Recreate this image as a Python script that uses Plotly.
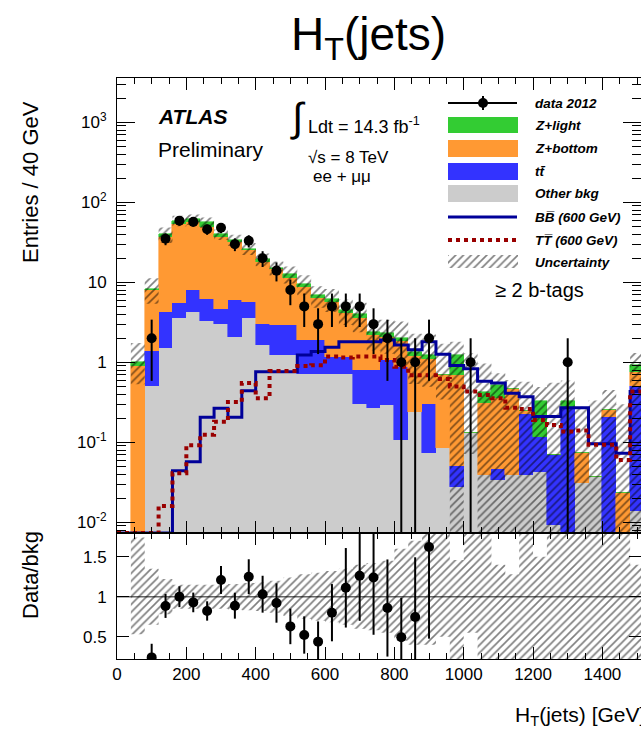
import numpy as np
import plotly.graph_objects as go

# ---------------------------------------------------------------------------
# H_T(jets) distribution, 40 GeV bins, >= 2 b-tags, ee + mumu channel
# ---------------------------------------------------------------------------
bin_width = 40.0
n_bins = 38
edges = np.arange(n_bins + 1) * bin_width
centers = 0.5 * (edges[:-1] + edges[1:])

data_2012 = np.array([0, 0, 2, 35, 59, 57, 46, 48, 30, 33, 20, 14, 8, 5, 3, 5, 5, 5, 3, 2,
                      1, 1, 2, 0, 0, 1, 0, 0, 0, 0, 0, 0, 1, 0, 0, 0, 0, 0], dtype=float)

other_bkg = np.array([0, 0, 0.51, 1.5, 3.6, 4.2, 3.3, 3.0, 2.1, 3.55, 1.63, 1.23, 1.23, 0.72,
                      0.72, 0.72, 0.72, 0.30, 0.27, 0.29, 0.107, 0.24, 0.073, 0.084, 0.028,
                      0.13, 0.039, 0.034, 0.039, 0.039, 0.042, 0.0093, 0.0, 0.031, 0.037,
                      0.0, 0.0, 0.014])
ttbar = np.array([0, 0, 0.89, 2.8, 1.9, 3.8, 2.9, 1.7, 3.9, 2.05, 1.37, 1.67, 1.7, 1.18, 1.18,
                  0.43, 0.43, 0.50, 0.53, 0.78, 0.77, 0, 0.23, 0, 0.022, 0, 0, 0.012, 0, 0.19,
                  0.075, 0.06, 0.27, 0, 0, 0.21, 0, 0.49])
z_bottom = np.array([0, 0.89, 6.6, 32.2, 48.5, 48, 43.3, 32.3, 26, 19.4, 15, 11.6, 8.3, 6.9,
                     4.4, 4.55, 2.95, 2.8, 1.4, 1.03, 0.97, 0.96, 0.8, 0.6, 0.64, 0.0, 0.27,
                     0.31, 0.43, 0.02, 0, 0, 0, 0.042, 0, 0.04, 0.023, 0.26])
z_light = np.array([0, 0.11, 0.3, 3.1, 5.0, 5.4, 6.5, 2.7, 1.8, 1.4, 1.4, 0.7, 1.5, 0.8, 0.55,
                    0.55, 0.4, 0.36, 0.22, 0.23, 0.18, 0.14, 0.13, 0.0, 0.55, 0.0, 0.12, 0.165,
                    0, 0, 0.21, 0, 0.06, 0, 0, 0, 0, 0.17])

# signal hypotheses, m = 600 GeV
bb_600 = np.array([0, 0, 0, 0, 0.044, 0.057, 0.205, 0.266, 0.205, 0.44, 0.76, 0.76, 0.76, 1.23,
                   1.36, 1.54, 1.81, 1.81, 1.81, 1.9, 1.65, 1.43, 1.81, 1.26, 0.91, 0.83, 0.58,
                   0.55, 0.41, 0.37, 0.21, 0.21, 0.27, 0.27, 0.096, 0.096, 0.073, 0.43])
tt_600 = np.array([0, 0, 0, 0.016, 0.041, 0.092, 0.124, 0.18, 0.32, 0.55, 0.355, 0.78, 0.78,
                   0.9, 0.92, 1.18, 1.15, 1.18, 1.18, 1.07, 0.88, 0.69, 0.69, 0.62, 0.50, 0.43,
                   0.39, 0.355, 0.27, 0.26, 0.19, 0.165, 0.136, 0.14, 0.093, 0.093, 0.060, 0.43])

# relative background uncertainty (up / down)
unc_up = np.array([0, 0.74, 0.35, 0.22, 0.15, 0.15, 0.15, 0.15, 0.16, 0.17, 0.18, 0.2, 0.24,
                   0.28, 0.3, 0.32, 0.35, 0.4, 0.42, 0.45, 0.6, 0.7, 0.8, 1.5, 0.46, 9.0, 1.25,
                   0.4, 0.28, 1.3, 0.5, 7.0, 0.8, 2.8, 8.0, 0.8, 12.0, 0.4])
unc_dn = np.array([0, 0.47, 0.35, 0.22, 0.15, 0.15, 0.15, 0.15, 0.16, 0.17, 0.18, 0.2, 0.24,
                   0.28, 0.3, 0.32, 0.35, 0.4, 0.42, 0.45, 0.55, 0.6, 0.6, 0.5, 1.0, 0.45, 1.0,
                   1.0, 1.0, 1.0, 1.0, 1.0, 1.0, 1.0, 1.0, 1.0, 1.0, 1.0])

total_bkg = other_bkg + ttbar + z_bottom + z_light

# ---------------------------------------------------------------------------
# canvas geometry
# ---------------------------------------------------------------------------
W, H = 641, 732
ML, MR, MT, MB = 117, 0, 78, 73
PW, PH = W - ML - MR, H - MT - MB
RATIO_H = 126
split = RATIO_H / PH
X_MAX = PW / 0.3467
LOG_LO, LOG_HI = -2.134, 3.554
R_LO, R_HI = 0.221, 1.796
FONT = "Liberation Sans, Arial, Helvetica, sans-serif"

C_ZL, C_ZB, C_TT, C_OT = "#33CC33", "#FF9933", "#3333FF", "#CCCCCC"
C_BB, C_TS = "#000099", "#990000"


def px(x):
    return (x - ML) / PW


def py(y):
    return (H - MB - y) / PH


fig = go.Figure()

# stacked backgrounds
for vals, col in [(other_bkg, C_OT), (ttbar, C_TT), (z_bottom, C_ZB), (z_light, C_ZL)]:
    fig.add_trace(go.Bar(x=centers, y=vals, width=bin_width,
                         marker=dict(color=col, line=dict(width=0.6, color=col)),
                         xaxis="x", yaxis="y", hoverinfo="skip", showlegend=False))


def band_polygon(lo, hi, mask):
    xs, ys = [], []
    idx = np.where(mask)[0]
    runs = np.split(idx, np.where(np.diff(idx) != 1)[0] + 1)
    for run in runs:
        if len(run) == 0:
            continue
        ux, uy, lx, ly = [], [], [], []
        for i in run:
            ux += [edges[i], edges[i + 1]]
            uy += [hi[i], hi[i]]
            lx += [edges[i], edges[i + 1]]
            ly += [lo[i], lo[i]]
        xs += ux + lx[::-1] + [ux[0], None]
        ys += uy + ly[::-1] + [uy[0], None]
    return xs, ys


hatch = dict(shape="/", size=5.5, solidity=0.3, fgcolor="black", bgcolor="rgba(0,0,0,0)")
has_bkg = total_bkg > 0

# uncertainty band on the stack
band_hi = total_bkg * (1 + unc_up)
band_lo = np.maximum(total_bkg * (1 - unc_dn), 1e-4)
bx, by = band_polygon(band_lo, band_hi, has_bkg)
fig.add_trace(go.Scatter(x=bx, y=by, mode="lines", fill="toself", line=dict(width=0),
                         fillcolor="rgba(0,0,0,0)", fillpattern=hatch,
                         xaxis="x", yaxis="y", hoverinfo="skip", showlegend=False))

# signal step histograms (empty bins drawn on the axis floor)
floor = 10 ** LOG_LO
for vals, col, dash, lw in [(bb_600, C_BB, "solid", 3), (tt_600, C_TS, "dot", 4)]:
    v = np.where(vals > 0, vals, floor)
    fig.add_trace(go.Scatter(x=edges, y=np.append(v, v[-1]), mode="lines",
                             line=dict(color=col, width=lw, dash=dash, shape="hv"),
                             xaxis="x", yaxis="y", hoverinfo="skip", showlegend=False))

# data points with Poisson errors
has_data = data_2012 > 0
n = data_2012[has_data]
err = np.sqrt(n)
err_lo = np.minimum(err, n - 1e-3)
fig.add_trace(go.Scatter(x=centers[has_data], y=n, mode="markers",
                         marker=dict(color="black", size=10),
                         error_y=dict(type="data", symmetric=False, array=err, arrayminus=err_lo,
                                      color="black", thickness=2, width=0),
                         xaxis="x", yaxis="y", hoverinfo="skip", showlegend=False))

# ---------------------------------------------------------------------------
# ratio panel
# ---------------------------------------------------------------------------
rx, ry = band_polygon(1 - unc_dn, 1 + unc_up, has_bkg)
fig.add_trace(go.Scatter(x=rx, y=ry, mode="lines", fill="toself", line=dict(width=0),
                         fillcolor="rgba(0,0,0,0)", fillpattern=hatch,
                         xaxis="x2", yaxis="y2", hoverinfo="skip", showlegend=False))

ratio_ok = has_data & has_bkg
ratio = np.zeros(n_bins)
ratio[ratio_ok] = data_2012[ratio_ok] / total_bkg[ratio_ok]
ratio_ok &= ratio < R_HI
r = ratio[ratio_ok]
r_err = np.sqrt(data_2012[ratio_ok]) / total_bkg[ratio_ok]
fig.add_trace(go.Scatter(x=centers[ratio_ok], y=r, mode="markers",
                         marker=dict(color="black", size=10),
                         error_y=dict(type="data", symmetric=False, array=r_err,
                                      arrayminus=np.minimum(r_err, r), color="black",
                                      thickness=2, width=0),
                         xaxis="x2", yaxis="y2", hoverinfo="skip", showlegend=False))

# empty traces carrying the right-hand tick axes
fig.add_trace(go.Scatter(x=[None], y=[None], xaxis="x", yaxis="y3", showlegend=False,
                         hoverinfo="skip"))
fig.add_trace(go.Scatter(x=[None], y=[None], xaxis="x2", yaxis="y4", showlegend=False,
                         hoverinfo="skip"))

# ---------------------------------------------------------------------------
# axes
# ---------------------------------------------------------------------------
decades = [0.01, 0.1, 1, 10, 100, 1000]
decade_txt = ["10<sup>-2</sup>", "10<sup>-1</sup>", "1", "10", "10<sup>2</sup>",
              "10<sup>3</sup>"]
log_minor = [k * 10.0 ** e for e in range(-3, 4) for k in range(2, 10)]

x_common = dict(range=[0, X_MAX], ticks="inside", ticklen=12, tickwidth=1, tick0=0, dtick=200,
                minor=dict(ticks="inside", ticklen=6, dtick=50, tickwidth=1),
                showline=True, linecolor="black", linewidth=1, mirror="ticks",
                showgrid=False, zeroline=False, tickcolor="black")
log_common = dict(type="log", range=[LOG_LO, LOG_HI], ticks="inside", ticklen=18,
                  tickwidth=1, tickcolor="black", tickmode="array", tickvals=decades,
                  minor=dict(ticks="inside", ticklen=9, tickmode="array", tickvals=log_minor,
                             tickwidth=1, tickcolor="black"),
                  showgrid=False, zeroline=False)
ratio_common = dict(range=[R_LO, R_HI], ticks="inside", ticklen=12, tickwidth=1,
                    tickcolor="black", tickmode="array", tickvals=[0.5, 1, 1.5],
                    showgrid=False, zeroline=False)

fig.update_layout(
    width=W, height=H, margin=dict(l=ML, r=MR, t=MT, b=MB, pad=0),
    paper_bgcolor="white", plot_bgcolor="rgba(0,0,0,0)",
    barmode="stack", bargap=0, showlegend=False,
    font=dict(family=FONT, color="black", size=17),
    xaxis=dict(domain=[0, 1], anchor="y", showticklabels=False, **x_common),
    xaxis2=dict(domain=[0, 1], anchor="y2", showticklabels=True,
                tickfont=dict(size=17), **x_common),
    yaxis=dict(domain=[split, 1], anchor="x", ticktext=decade_txt, showline=True,
               linecolor="black", linewidth=1, mirror=False, tickfont=dict(size=17),
               ticklabelstandoff=6, **log_common),
    yaxis3=dict(overlaying="y", side="right", anchor="x", showticklabels=False,
                showline=False, **log_common),
    yaxis2=dict(domain=[0, split], anchor="x2", ticktext=["0.5", "1", "1.5"], showline=True,
                linecolor="black", linewidth=1, mirror=False, tickfont=dict(size=17),
                ticklabelstandoff=6, **ratio_common),
    yaxis4=dict(overlaying="y2", side="right", anchor="x2", showticklabels=False,
                showline=False, **ratio_common),
)

# unity line in the ratio panel
fig.add_shape(type="line", xref="x2 domain", yref="y2", x0=0, x1=1, y0=1, y1=1,
              line=dict(color="#666666", width=1.5), layer="below")

# ---------------------------------------------------------------------------
# texts
# ---------------------------------------------------------------------------
def text(x, y, s, size, xanchor="left", angle=0, **kw):
    fig.add_annotation(x=px(x), y=py(y), xref="paper", yref="paper", text=s, showarrow=False,
                       xanchor=xanchor, yanchor="middle", textangle=angle,
                       font=dict(family=FONT, size=size, color="black"), **kw)


text(368, 37, "H<sub>T</sub>(jets)", 46, xanchor="center")
text(30, 182, "Entries / 40 GeV", 22, xanchor="center", angle=-90)
text(30, 575, "Data/bkg", 22, xanchor="center", angle=-90)
text(647, 716, "H<sub>T</sub>(jets) [GeV]", 21, xanchor="right")

text(156, 116, "<b><i>ATLAS</i></b>", 21)
text(156, 149, "Preliminary", 21)
text(298, 118, "\u222b", 40, xanchor="center")
text(306, 126, "Ldt = 14.3 fb<sup>-1</sup>", 18)
text(306, 157, "\u221as = 8 TeV", 17)
text(311, 176, "ee + \u03bc\u03bc", 17)
text(493, 290, "\u2265 2 b-tags", 20)

# legend
LX0, LX1, LTX = 448, 518, 533
fig.add_shape(type="line", xref="paper", yref="paper", x0=px(LX0), x1=px(LX1 - 1),
              y0=py(103), y1=py(103), line=dict(color="black", width=2))
fig.add_shape(type="line", xref="paper", yref="paper", x0=px(483), x1=px(483),
              y0=py(96), y1=py(110), line=dict(color="black", width=2))
fig.add_shape(type="circle", xref="paper", yref="paper", x0=px(478), x1=px(488),
              y0=py(108), y1=py(98), fillcolor="black", line=dict(width=0))
for (y0, y1), col in zip([(117, 133), (140, 157), (163, 180), (185, 202)],
                         [C_ZL, C_ZB, C_TT, C_OT]):
    fig.add_shape(type="rect", xref="paper", yref="paper", x0=px(LX0), x1=px(LX1),
                  y0=py(y1), y1=py(y0), fillcolor=col, line=dict(width=0))
fig.add_shape(type="line", xref="paper", yref="paper", x0=px(LX0), x1=px(LX1 - 1),
              y0=py(217), y1=py(217), line=dict(color=C_BB, width=3))
fig.add_shape(type="line", xref="paper", yref="paper", x0=px(LX0), x1=px(LX1 - 1),
              y0=py(240), y1=py(240), line=dict(color=C_TS, width=4, dash="dot"))

# hatched legend swatch on a small auxiliary axis pair
fig.update_layout(
    xaxis5=dict(domain=[px(LX0), px(LX1)], range=[0, 1], visible=False, anchor="y5"),
    yaxis5=dict(domain=[py(268), py(255)], range=[0, 1], visible=False, anchor="x5"),
)
fig.add_trace(go.Scatter(x=[0, 1, 1, 0, 0], y=[0, 0, 1, 1, 0], mode="lines", fill="toself",
                         line=dict(width=0), fillcolor="rgba(0,0,0,0)", fillpattern=hatch,
                         xaxis="x5", yaxis="y5", hoverinfo="skip", showlegend=False))

for y, s in [(103, "data 2012"), (125, "Z+light"), (148, "Z+bottom"), (171, "tt\u0304"),
             (193, "Other bkg"), (217, "BB\u0305 (600 GeV)"), (240, "TT\u0305 (600 GeV)"),
             (262, "Uncertainty")]:
    text(LTX, y, "<b><i>" + s + "</i></b>", 13.5)

fig.write_html("out.html", config={"displayModeBar": False})
